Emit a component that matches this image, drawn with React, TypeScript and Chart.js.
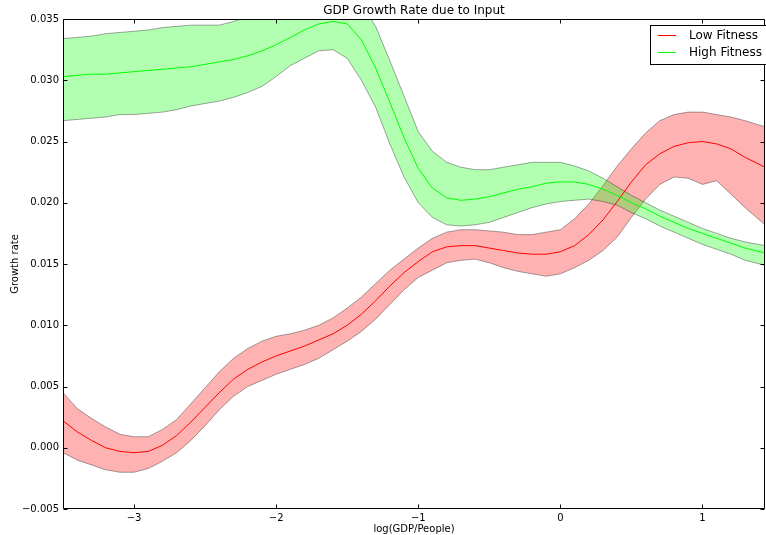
import { useEffect, useRef } from "react";
import { Chart, registerables } from "chart.js";

Chart.register(...registerables);

const xValues = [
  -3.5, -3.4, -3.3, -3.2, -3.1, -3.0, -2.9, -2.8, -2.7, -2.6,
  -2.5, -2.4, -2.3, -2.2, -2.1, -2.0, -1.9, -1.8, -1.7, -1.6,
  -1.5, -1.4, -1.3, -1.2, -1.1, -1.0, -0.9, -0.8, -0.7, -0.6,
  -0.5, -0.4, -0.3, -0.2, -0.1, 0.0, 0.1, 0.2, 0.3, 0.4,
  0.5, 0.6, 0.7, 0.8, 0.9, 1.0, 1.1, 1.2, 1.3, 1.44,
];

const lowMean = [
  0.0022, 0.0013, 0.0006, 0.0000, -0.0003, -0.0004, -0.0003, 0.0002, 0.0010, 0.0021,
  0.0033, 0.0045, 0.0056, 0.0064, 0.0070, 0.0075, 0.0079, 0.0083, 0.0088, 0.0093,
  0.0100, 0.0109, 0.0120, 0.0132, 0.0143, 0.0152, 0.0160, 0.0164, 0.0165, 0.0165,
  0.0163, 0.0161, 0.0159, 0.0158, 0.0158, 0.0160, 0.0165, 0.0174, 0.0186, 0.0201,
  0.0217, 0.0231, 0.0240, 0.0246, 0.0249, 0.0250, 0.0248, 0.0244, 0.0237, 0.0229,
];
const lowUpper = [
  0.0045, 0.0032, 0.0024, 0.0017, 0.0011, 0.0009, 0.0009, 0.0015, 0.0023, 0.0036,
  0.0049, 0.0062, 0.0073, 0.0081, 0.0087, 0.0091, 0.0093, 0.0096, 0.0100, 0.0106,
  0.0114, 0.0123, 0.0134, 0.0145, 0.0154, 0.0163, 0.0171, 0.0176, 0.0178, 0.0178,
  0.0177, 0.0176, 0.0174, 0.0174, 0.0176, 0.0178, 0.0187, 0.0199, 0.0214, 0.0230,
  0.0244, 0.0257, 0.0267, 0.0272, 0.0274, 0.0274, 0.0272, 0.0270, 0.0267, 0.0262,
];
const lowLower = [
  -0.0004, -0.0010, -0.0014, -0.0018, -0.0020, -0.0020, -0.0017, -0.0011, -0.0004, 0.0006,
  0.0018, 0.0031, 0.0042, 0.0050, 0.0055, 0.0060, 0.0064, 0.0068, 0.0073, 0.0080,
  0.0087, 0.0095, 0.0105, 0.0117, 0.0129, 0.0139, 0.0145, 0.0151, 0.0153, 0.0154,
  0.0151, 0.0147, 0.0144, 0.0142, 0.0140, 0.0142, 0.0147, 0.0153, 0.0161, 0.0172,
  0.0188, 0.0203, 0.0215, 0.0221, 0.0220, 0.0215, 0.0218, 0.0207, 0.0196, 0.0182,
];

const highMean = [
  0.0303, 0.0304, 0.0305, 0.0305, 0.0306, 0.0307, 0.0308, 0.0309, 0.0310, 0.0311,
  0.0313, 0.0315, 0.0317, 0.0320, 0.0324, 0.0329, 0.0335, 0.0341, 0.0346, 0.0348,
  0.0346, 0.0333, 0.0310, 0.0282, 0.0253, 0.0228, 0.0212, 0.0204, 0.0202, 0.0203,
  0.0205, 0.0208, 0.0211, 0.0213, 0.0216, 0.0217, 0.0217, 0.0215, 0.0211, 0.0206,
  0.0200, 0.0195, 0.0189, 0.0184, 0.0179, 0.0175, 0.0171, 0.0167, 0.0163, 0.0159,
];
const highUpper = [
  0.0334, 0.0335, 0.0336, 0.0338, 0.0339, 0.0340, 0.0341, 0.0343, 0.0344, 0.0345,
  0.0345, 0.0345, 0.0348, 0.0352, 0.0356, 0.0360, 0.0365, 0.0370, 0.0372, 0.0373,
  0.0370, 0.0362, 0.0344, 0.0316, 0.0287, 0.0258, 0.0242, 0.0233, 0.0229, 0.0227,
  0.0227, 0.0229, 0.0231, 0.0233, 0.0233, 0.0233, 0.0230, 0.0226, 0.0220, 0.0213,
  0.0206, 0.0200, 0.0194, 0.0189, 0.0184, 0.0179, 0.0175, 0.0171, 0.0168, 0.0165,
];
const highLower = [
  0.0267, 0.0268, 0.0269, 0.0270, 0.0272, 0.0272, 0.0273, 0.0274, 0.0276, 0.0279,
  0.0281, 0.0283, 0.0286, 0.0290, 0.0295, 0.0303, 0.0312, 0.0318, 0.0324, 0.0325,
  0.0318, 0.0300, 0.0278, 0.0248, 0.0221, 0.0200, 0.0188, 0.0182, 0.0181, 0.0182,
  0.0184, 0.0188, 0.0192, 0.0196, 0.0199, 0.0201, 0.0202, 0.0203, 0.0201, 0.0198,
  0.0192, 0.0187, 0.0181, 0.0176, 0.0171, 0.0166, 0.0162, 0.0158, 0.0153, 0.0149,
];

const xTicks = [-3, -2, -1, 0, 1];
const yTicks = [-0.005, 0.0, 0.005, 0.01, 0.015, 0.02, 0.025, 0.03, 0.035];

const chartTitle = "GDP Growth Rate due to Input";
const xTitle = "log(GDP/People)";
const yTitle = "Growth rate";
const seriesNames = ["Low Fitness", "High Fitness"];
const seriesColors = ["#ff0000", "#00ff00"];
const bandColors = ["rgba(255,0,0,0.3)", "rgba(0,255,0,0.3)"];

const FONT = "'DejaVu Sans', sans-serif";

function fmt(v: number, d: number) {
  const s = Math.abs(v).toFixed(d);
  return v < -1e-12 ? "\u2212" + s : s;
}

function pts(ys: number[]) {
  return xValues.map((x, i) => ({ x, y: ys[i] }));
}

const framePlugin = {
  id: "mplFrame",
  afterDraw(chart: any) {
    const { ctx, chartArea } = chart;
    const { left, right, top, bottom } = chartArea;
    const xs = chart.scales.x;
    const ys = chart.scales.y;
    ctx.save();
    ctx.strokeStyle = "#000";
    ctx.lineWidth = 1;
    const L = Math.round(left) + 0.5;
    const R = Math.round(right) - 0.5;
    const T = Math.round(top) + 0.5;
    const B = Math.round(bottom) - 0.5;
    ctx.beginPath();
    ctx.rect(L, T, R - L, B - T);
    ctx.stroke();
    ctx.beginPath();
    for (const v of xTicks) {
      const px = Math.round(xs.getPixelForValue(v)) + 0.5;
      ctx.moveTo(px, B);
      ctx.lineTo(px, B - 4);
      ctx.moveTo(px, T);
      ctx.lineTo(px, T + 4);
    }
    for (const v of yTicks) {
      const py = Math.round(ys.getPixelForValue(v)) + 0.5;
      ctx.moveTo(L, py);
      ctx.lineTo(L + 4, py);
      ctx.moveTo(R, py);
      ctx.lineTo(R - 4, py);
    }
    ctx.stroke();

    // title
    ctx.fillStyle = "#000";
    ctx.font = `12px ${FONT}`;
    ctx.textAlign = "center";
    ctx.textBaseline = "middle";
    ctx.fillText(chartTitle, (left + right) / 2, 11);

    // legend
    const bx = 650.5, by = 25.5, bw = 130, bh = 39;
    ctx.fillStyle = "#fff";
    ctx.fillRect(bx, by, bw, bh);
    ctx.strokeStyle = "#000";
    ctx.lineWidth = 1;
    ctx.strokeRect(bx, by, bw, bh);
    ctx.font = `12px ${FONT}`;
    ctx.textAlign = "left";
    ctx.textBaseline = "middle";
    const rows = [35, 52];
    seriesNames.forEach((name, i) => {
      ctx.fillStyle = seriesColors[i];
      ctx.fillRect(658, rows[i], 18, 1);
      ctx.fillStyle = "#000";
      ctx.fillText(name, 689, rows[i] + 1);
    });
    ctx.restore();
  },
};

export default function App() {
  const ref = useRef<HTMLCanvasElement | null>(null);
  useEffect(() => {
    document.body.style.margin = "0";
    if (!ref.current) return;
    const edge = "rgba(0,0,0,0.35)";
    const chart = new Chart(ref.current, {
      type: "line",
      data: {
        datasets: [
          {
            label: "low upper",
            data: pts(lowUpper),
            borderColor: edge,
            borderWidth: 1,
            backgroundColor: bandColors[0],
            fill: 1,
            pointRadius: 0,
            tension: 0,
            order: 6,
            clip: 0,
          },
          {
            label: "low lower",
            data: pts(lowLower),
            borderColor: edge,
            borderWidth: 1,
            fill: false,
            pointRadius: 0,
            tension: 0,
            order: 5,
            clip: 0,
          },
          {
            label: "high upper",
            data: pts(highUpper),
            borderColor: edge,
            borderWidth: 1,
            backgroundColor: bandColors[1],
            fill: 3,
            pointRadius: 0,
            tension: 0,
            order: 4,
            clip: 0,
          },
          {
            label: "high lower",
            data: pts(highLower),
            borderColor: edge,
            borderWidth: 1,
            fill: false,
            pointRadius: 0,
            tension: 0,
            order: 3,
            clip: 0,
          },
          {
            label: seriesNames[0],
            data: pts(lowMean),
            borderColor: seriesColors[0],
            borderWidth: 1,
            fill: false,
            pointRadius: 0,
            tension: 0,
            order: 2,
            clip: 0,
          },
          {
            label: seriesNames[1],
            data: pts(highMean),
            borderColor: seriesColors[1],
            borderWidth: 1,
            fill: false,
            pointRadius: 0,
            tension: 0,
            order: 1,
            clip: 0,
          },
        ] as any,
      },
      options: {
        animation: false,
        responsive: false,
        layout: { padding: { top: 19, right: 1, left: 0, bottom: 0 } },
        plugins: {
          legend: { display: false },
          title: { display: false },
          tooltip: { enabled: false },
        },
        scales: {
          x: {
            type: "linear",
            min: -3.5,
            max: 1.44,
            grid: { display: false, drawTicks: false },
            border: { display: false },
            afterBuildTicks: (s: any) => {
              s.ticks = xTicks.map((v) => ({ value: v }));
            },
            afterFit: (s: any) => {
              s.height = 26;
            },
            ticks: {
              padding: 3,
              color: "#000",
              font: { family: FONT, size: 10 },
              maxRotation: 0,
              callback: (v: any) => fmt(Number(v), 0),
            },
            title: {
              display: true,
              text: xTitle,
              color: "#000",
              font: { family: FONT, size: 10 },
              padding: { top: 0, bottom: 0 },
            },
          },
          y: {
            type: "linear",
            min: -0.005,
            max: 0.035,
            grid: { display: false, drawTicks: false },
            border: { display: false },
            afterBuildTicks: (s: any) => {
              s.ticks = yTicks.map((v) => ({ value: v }));
            },
            afterFit: (s: any) => {
              s.width = 63;
            },
            ticks: {
              padding: 4,
              color: "#000",
              font: { family: FONT, size: 10 },
              callback: (v: any) => fmt(Number(v), 3),
            },
            title: {
              display: true,
              text: yTitle,
              color: "#000",
              font: { family: FONT, size: 10 },
              padding: { top: 9, bottom: 0 },
            },
          },
        },
      },
      plugins: [framePlugin],
    });
    return () => chart.destroy();
  }, []);

  return (
    <div style={{ width: 766, height: 535, background: "#fff" }}>
      <canvas ref={ref} width={766} height={535} style={{ display: "block" }} />
    </div>
  );
}
